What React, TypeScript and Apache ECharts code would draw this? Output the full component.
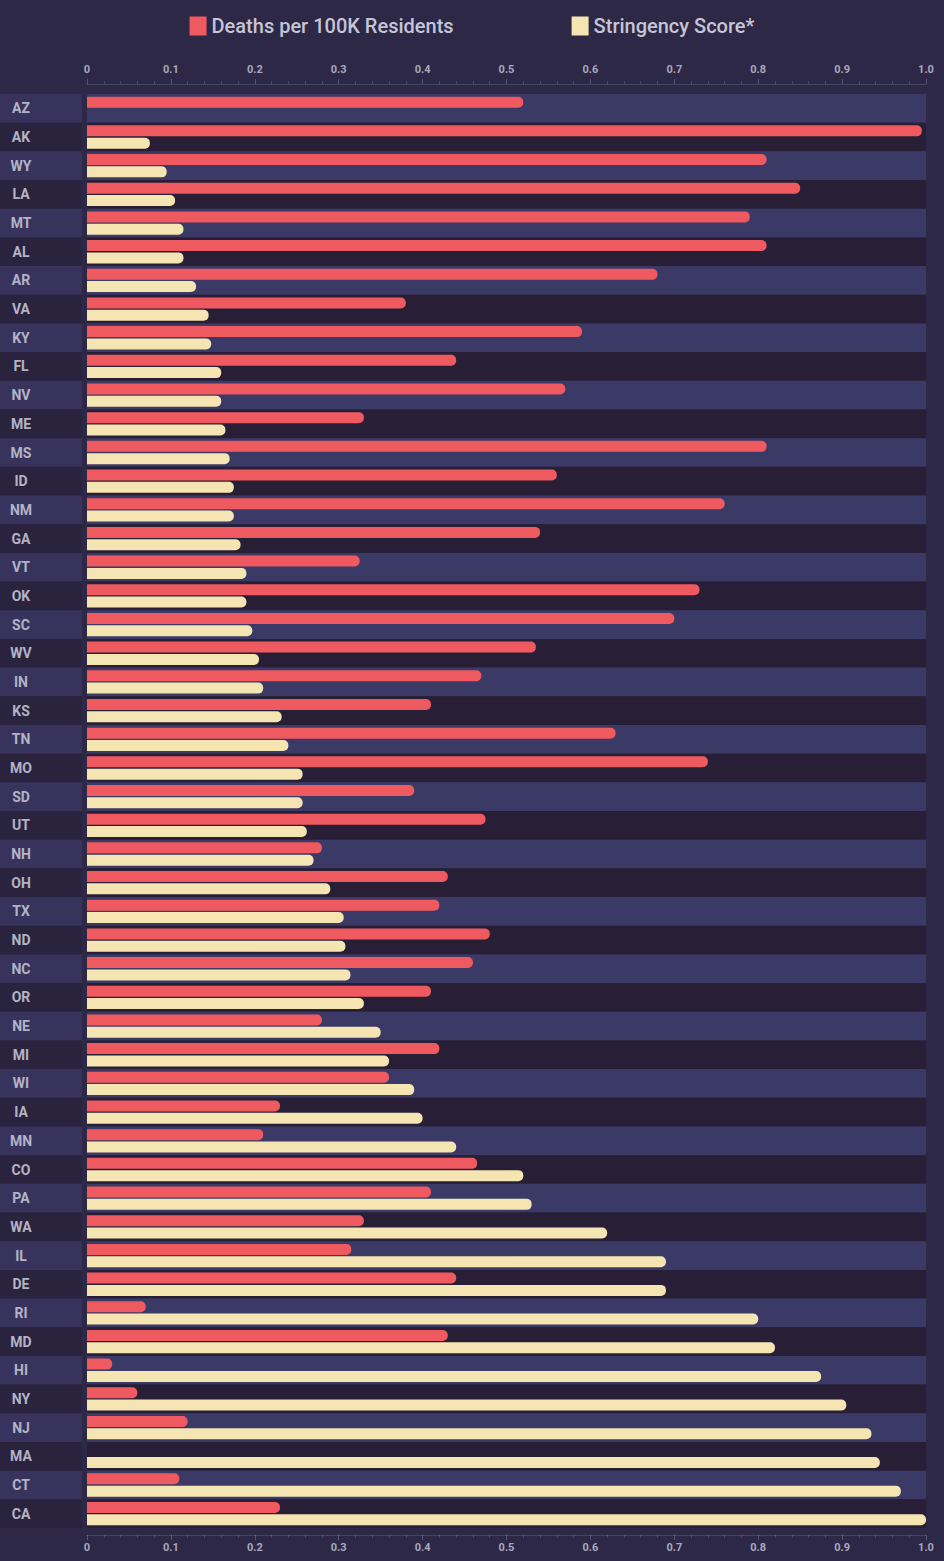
import React, { useEffect, useRef } from "react";
import * as echarts from "echarts";

const states = [
  "AZ", "AK", "WY", "LA", "MT", "AL", "AR", "VA", "KY", "FL",
  "NV", "ME", "MS", "ID", "NM", "GA", "VT", "OK", "SC", "WV",
  "IN", "KS", "TN", "MO", "SD", "UT", "NH", "OH", "TX", "ND",
  "NC", "OR", "NE", "MI", "WI", "IA", "MN", "CO", "PA", "WA",
  "IL", "DE", "RI", "MD", "HI", "NY", "NJ", "MA", "CT", "CA",
];

const deaths = [
  0.52, 0.995, 0.81, 0.85, 0.79, 0.81, 0.68, 0.38, 0.59, 0.44,
  0.57, 0.33, 0.81, 0.56, 0.76, 0.54, 0.325, 0.73, 0.70, 0.535,
  0.47, 0.41, 0.63, 0.74, 0.39, 0.475, 0.28, 0.43, 0.42, 0.48,
  0.46, 0.41, 0.28, 0.42, 0.36, 0.23, 0.21, 0.465, 0.41, 0.33,
  0.315, 0.44, 0.07, 0.43, 0.03, 0.06, 0.12, 0, 0.11, 0.23,
];

const stringency = [
  0, 0.075, 0.095, 0.105, 0.115, 0.115, 0.13, 0.145, 0.148, 0.16,
  0.16, 0.165, 0.17, 0.175, 0.175, 0.183, 0.19, 0.19, 0.197, 0.205,
  0.21, 0.232, 0.24, 0.257, 0.257, 0.262, 0.27, 0.29, 0.306, 0.308,
  0.314, 0.33, 0.35, 0.36, 0.39, 0.40, 0.44, 0.52, 0.53, 0.62,
  0.69, 0.69, 0.80, 0.82, 0.875, 0.905, 0.935, 0.945, 0.97, 1.0,
];

const xTickLabels = ["0", "0.1", "0.2", "0.3", "0.4", "0.5", "0.6", "0.7", "0.8", "0.9", "1.0"];

const seriesNames = ["Deaths per 100K Residents", "Stringency Score*"];

export default function App() {
  const ref = useRef<HTMLDivElement>(null);

  useEffect(() => {
    if (!ref.current) return;
    const chart = echarts.init(ref.current, null, { renderer: "svg" });

    const xLabel = (v: number) => xTickLabels[Math.round(v * 10)] ?? "";
    const axisText = {
      color: "#a9a8bd",
      fontSize: 11,
      fontFamily: "Roboto",
      fontWeight: "bold" as const,
    };

    chart.setOption({
      animation: false,
      backgroundColor: "#2c2846",
      legend: {
        top: 11,
        left: "center",
        itemGap: 118,
        itemWidth: 17,
        itemHeight: 19,
        icon: "rect",
        textStyle: {
          color: "#c6c5d6",
          fontSize: 20,
          fontFamily: "Roboto",
          fontWeight: 500,
        },
        data: seriesNames,
      },
      grid: [
        { left: 87, right: 18, top: 94, bottom: 33 },
        { left: 0, width: 82, top: 94, bottom: 33 },
      ],
      xAxis: [
        {
          type: "value",
          gridIndex: 0,
          position: "top",
          min: 0,
          max: 1,
          interval: 0.1,
          offset: 10,
          axisLine: { show: true, lineStyle: { color: "rgba(170,170,200,0.25)", type: "dotted" } },
          axisTick: { show: true, length: 5, lineStyle: { color: "rgba(170,170,200,0.35)" } },
          minorTick: { show: true, splitNumber: 5, length: 3, lineStyle: { color: "rgba(170,170,200,0.25)" } },
          splitLine: { show: false },
          axisLabel: { ...axisText, margin: 9, formatter: xLabel },
        },
        {
          type: "value",
          gridIndex: 0,
          position: "bottom",
          min: 0,
          max: 1,
          interval: 0.1,
          offset: 7,
          axisLine: { show: true, lineStyle: { color: "rgba(170,170,200,0.25)", type: "dotted" } },
          axisTick: { show: true, length: 5, lineStyle: { color: "rgba(170,170,200,0.35)" } },
          minorTick: { show: true, splitNumber: 5, length: 3, lineStyle: { color: "rgba(170,170,200,0.25)" } },
          splitLine: { show: false },
          axisLabel: { ...axisText, margin: 7, formatter: xLabel },
        },
        {
          type: "value",
          gridIndex: 1,
          min: 0,
          max: 1,
          show: false,
        },
      ],
      yAxis: [
        {
          type: "category",
          gridIndex: 0,
          data: states,
          inverse: true,
          axisLine: { show: false },
          axisTick: { show: false },
          axisLabel: {
            color: "#b4b3c6",
            fontSize: 14,
            fontFamily: "Roboto",
            fontWeight: "bold",
            align: "center",
            margin: 66,
          },
          splitArea: {
            show: true,
            areaStyle: { color: ["#3b3966", "#281f36"] },
          },
        },
        {
          type: "category",
          gridIndex: 1,
          data: states,
          inverse: true,
          axisLine: { show: false },
          axisTick: { show: false },
          axisLabel: { show: false },
          splitArea: {
            show: true,
            areaStyle: { color: ["#37335d", "#2a233d"] },
          },
        },
      ],
      series: [
        {
          name: seriesNames[0],
          type: "bar",
          xAxisIndex: 0,
          yAxisIndex: 0,
          data: deaths,
          barWidth: 11,
          barGap: "12%",
          itemStyle: { color: "#ee5a60", borderRadius: [0, 5, 5, 0] },
        },
        {
          name: seriesNames[1],
          type: "bar",
          xAxisIndex: 0,
          yAxisIndex: 0,
          data: stringency,
          barWidth: 11,
          barGap: "12%",
          itemStyle: { color: "#f5e5b2", borderRadius: [0, 5, 5, 0] },
        },
      ],
    });

    return () => chart.dispose();
  }, []);

  return (
    <div
      ref={ref}
      style={{ position: "absolute", left: 0, top: 0, width: 944, height: 1561 }}
    />
  );
}
